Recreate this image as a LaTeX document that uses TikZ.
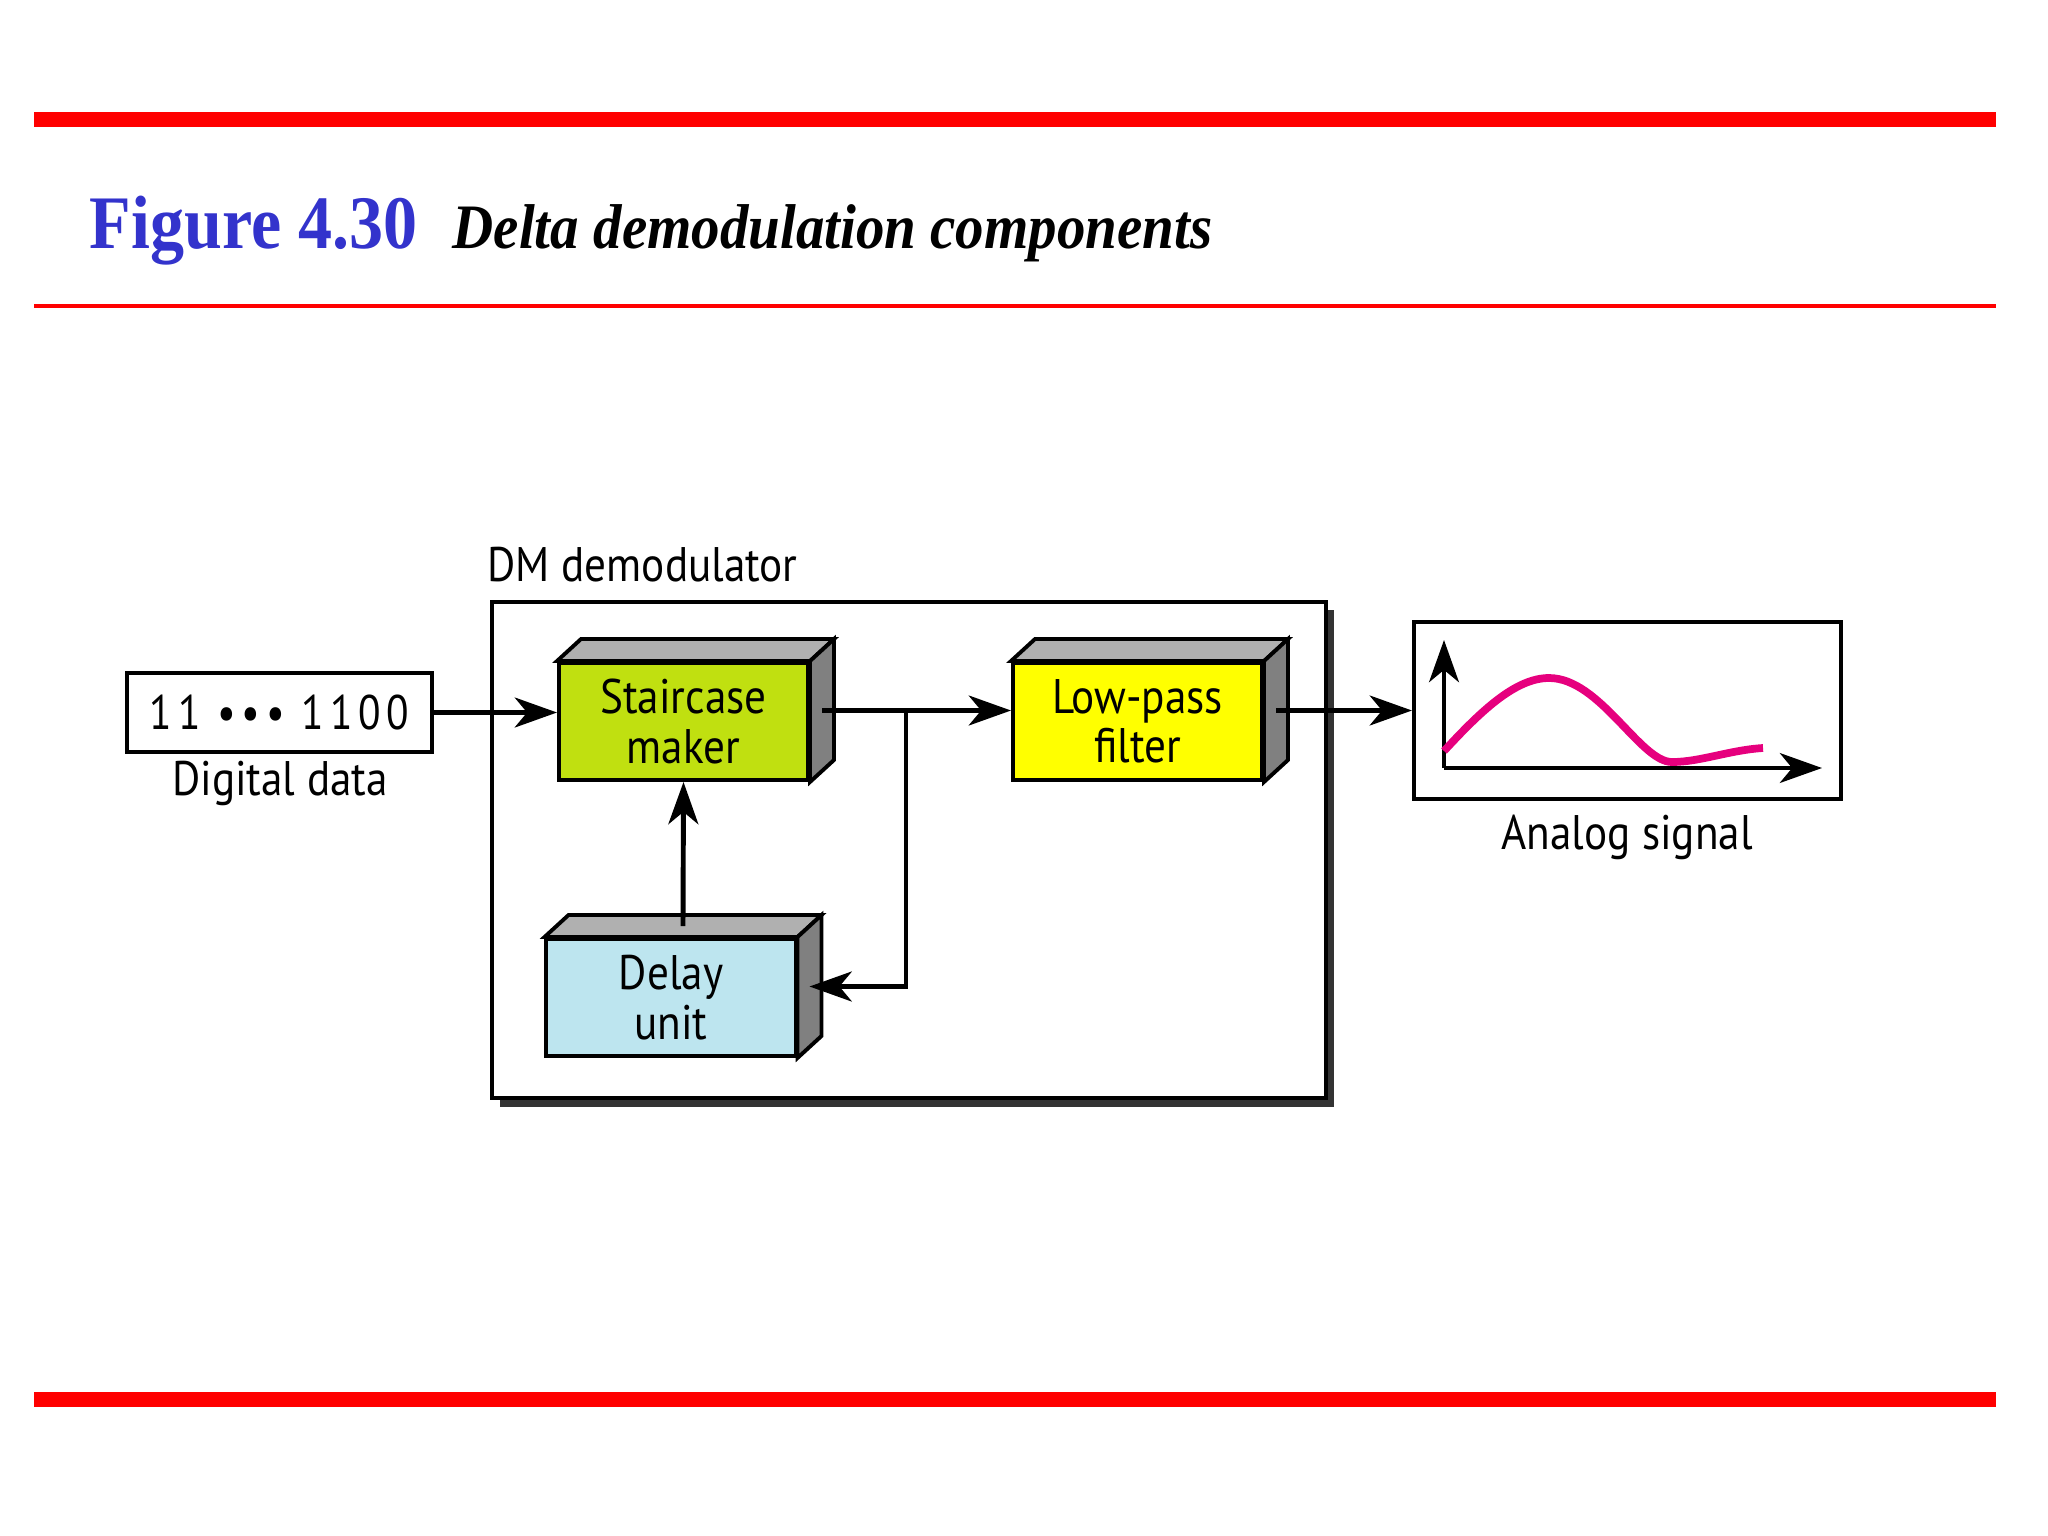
\documentclass[tikz,border=0pt]{standalone}
\usepackage{fontspec}
\setmainfont{Liberation Serif}
\newfontfamily\figfont[FakeStretch=0.89]{PT Sans}
\newfontfamily\digfont[FakeStretch=0.85,LetterSpace=12]{PT Sans}
\newfontfamily\capfont[FakeStretch=0.9]{Liberation Serif}
\usetikzlibrary{arrows.meta,calc,positioning}
\definecolor{barred}{RGB}{255,0,0}
\definecolor{figblue}{RGB}{51,51,204}
\definecolor{stairgreen}{RGB}{192,224,16}
\definecolor{lpfyellow}{RGB}{255,255,0}
\definecolor{delayblue}{RGB}{189,229,239}
\definecolor{topgray}{RGB}{176,176,176}
\definecolor{sidegray}{RGB}{128,128,128}
\definecolor{curvepink}{RGB}{230,0,126}
\definecolor{shadowgray}{RGB}{51,51,51}
\tikzset{
  blockbox/.style={draw, line width=1.1pt, minimum width=2.49cm, minimum height=1.17cm,
    align=center, inner sep=0pt, font=\figfont\fontsize{13.8}{14}\selectfont},
  framebox/.style={draw, line width=1.1pt, inner sep=0pt},
  textlbl/.style={inner sep=0pt, font=\figfont\fontsize{13.8}{14}\selectfont},
  flow/.style={line width=1.4pt, -{Stealth[length=12pt,width=8.5pt,inset=3.5pt]}},
}
\begin{document}
\begin{tikzpicture}[x=0.01cm, y=-0.01cm]
  \useasboundingbox (0,0) rectangle (2048,1536);
  % red rules and title
  \fill[barred] (34,112) rectangle (1996,127);
  \fill[barred] (34,304) rectangle (1996,308);
  \fill[barred] (34,1392) rectangle (1996,1407);
  \node[anchor=base west, inner sep=0pt, text=figblue,
    font=\capfont\bfseries\fontsize{21.5}{24}\selectfont] (fignum) at (89,248) {Figure 4.30};
  \node[anchor=base west, inner sep=0pt,
    font=\capfont\bfseries\itshape\fontsize{18}{22}\selectfont] (figtitle) at (452,248) {Delta demodulation components};

  % demodulator frame
  \fill[shadowgray] (500,610) rectangle (1334,1107);
  \node[framebox, fill=white, minimum width=8.34cm, minimum height=4.96cm] (dm) at (909,850) {};
  \node[textlbl, anchor=base west] (dmlbl) at (487,581) {DM demodulator};

  % blocks
  \node[blockbox, fill=stairgreen] (stair) at (683.5,721.5) {Staircase\\maker};
  \node[blockbox, fill=lpfyellow] (lpf) at (1137.5,721.5) {Low-pass\\filter};
  \node[blockbox, fill=delayblue] (delay) at (671,997.5) {Delay\\unit};
  \foreach \b in {stair,lpf,delay}{
    \draw[line width=1.1pt, fill=topgray] (\b.north west) -- ++(24,-22)
      -- ($(\b.north east)+(24,-22)$) -- (\b.north east) -- cycle;
    \draw[line width=1.1pt, fill=sidegray] (\b.north east) -- ++(24,-22)
      -- ($(\b.south east)+(24,-22)$) -- (\b.south east) -- cycle;
  }

  % input data
  \node[framebox, minimum width=3.05cm, minimum height=0.79cm,
    font=\digfont\fontsize{13.8}{15}\selectfont] (digital) at (279.5,712.5) {11 ••• 1100};
  \node[textlbl, anchor=base] (digitallbl) at (280,795) {Digital data};

  % output signal
  \node[framebox, minimum width=4.27cm, minimum height=1.77cm] (analog) at (1627.5,710.5) {};
  \node[textlbl, anchor=base] (analoglbl) at (1627,849) {Analog signal};
  \coordinate (org) at (1444,768);
  \draw[line width=1.1pt, -{Stealth[length=12pt,width=8.5pt,inset=3.5pt]}] (org) -- (1444,640);
  \draw[line width=1.1pt, -{Stealth[length=12pt,width=8.5pt,inset=3.5pt]}] (org) -- (1822,768);
  \draw[curvepink, line width=2.2pt] (1444,751) .. controls (1480,712) and (1515,678) .. (1549,678)
    .. controls (1600,678) and (1640,762) .. (1672,762)
    .. controls (1700,762) and (1730,750) .. (1763,748);

  % connectors
  \coordinate (stairout) at ($(stair.east)+(12,-11)$);
  \coordinate (lpfout) at ($(lpf.east)+(12,-11)$);
  \coordinate (delayin) at ($(delay.east)+(12,-11)$);
  \coordinate (delaytop) at ($(delay.north)+(12,-11)$);
  \coordinate (branch) at ($(stairout)+(84,0)$);
  \draw[flow] (digital.east) -- (stair.west |- digital.east);
  \draw[flow] (stairout) -- (lpf.west |- stairout);
  \draw[flow] (branch) |- (delayin);
  \draw[flow] (delaytop) -- (stair.south);
  \draw[flow] (lpfout) -- (analog.west |- lpfout);
\end{tikzpicture}
\end{document}
